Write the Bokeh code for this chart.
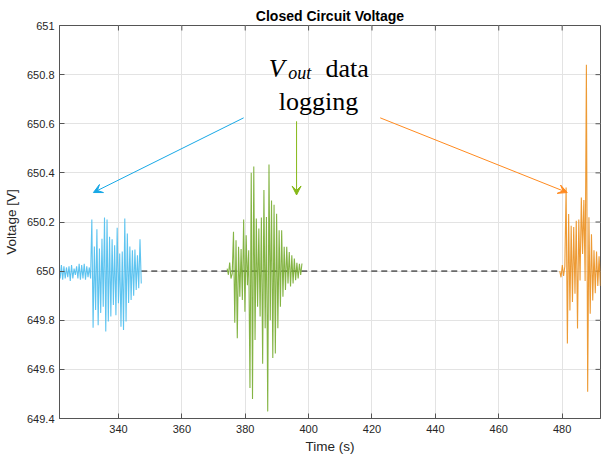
import math
from bokeh.plotting import figure
from bokeh.models import (Range1d, FixedTicker, NumeralTickFormatter,
                          Label, Arrow, VeeHead)
from bokeh.embed import file_html
from bokeh.resources import INLINE

# ---------------- data ----------------
title_text = "Closed Circuit Voltage"
x_label = "Time (s)"
y_label = "Voltage [V]"
x_ticks = [340, 360, 380, 400, 420, 440, 460, 480]
y_ticks = [649.4, 649.6, 649.8, 650.0, 650.2, 650.4, 650.6, 650.8, 651.0]
x_limits = [321.4, 492.1]
y_limits = [649.4, 651.0]

sample_dt = 0.4  # logging interval (s)

cyan_t0 = 321.2
cyan_v = [650.02, 649.97, 650.025, 649.965, 650.02, 649.97, 650.015, 649.975, 650.02, 649.96,
          650.025, 649.97, 650.01, 649.985, 650.02, 649.97, 650.03, 649.965, 650.025, 649.97,
          650.03, 649.965, 650.02, 649.975, 650.015, 649.97,
          650.21, 649.77, 650.10, 649.842, 650.17, 649.78, 650.092, 649.83, 650.132, 649.855,
          650.218, 649.754, 650.21, 649.795, 650.14, 649.815, 650.13, 649.862, 650.105, 649.82,
          650.177, 649.869, 650.072, 649.774, 650.08, 649.76, 650.214, 649.795, 650.153, 649.87,
          650.10, 649.882, 650.085, 649.90, 650.088, 649.923, 650.065, 649.93, 650.13, 649.95]

green_t0 = 374.3
green_v = [650.01, 649.985, 650.035, 649.97, 649.99,
           650.16, 649.79, 650.126, 649.727, 650.099, 649.896, 650.09, 649.882, 650.21, 649.835,
           650.146, 649.943, 650.085, 649.524, 650.40, 649.479, 650.426, 649.72, 650.214, 649.855,
           650.173, 649.815, 650.218, 649.623, 650.33, 649.767, 650.22, 649.429, 650.434, 649.80,
           650.288, 649.646, 650.27, 649.665, 650.234, 649.767, 650.166, 649.855, 650.166, 649.896,
           650.099, 649.923, 650.099, 649.95, 650.078, 649.937, 650.065, 649.95, 650.051, 649.963,
           650.034, 649.97, 650.03, 649.984, 650.031]

orange_t0 = 479.25
orange_v = [650.0, 649.975, 650.025, 649.98, 650.02,
            650.34, 649.705, 650.233, 649.84, 650.185, 649.874, 650.18, 649.908, 650.205, 649.766,
            650.21, 649.962, 650.30, 650.07, 650.29, 649.96, 650.84,
            649.509, 650.219, 649.827, 650.15, 649.88, 650.085, 649.91, 650.08, 649.94, 650.06,
            649.94, 650.05]

ref_t = [347.2, 479.2]
ref_v = [650.0, 650.0]

arrow_tail_t = [379.5, 396.2, 422.6]
arrow_tail_v = [650.624, 650.61, 650.624]
arrow_head_t = [332.1, 396.2, 481.6]
arrow_head_v = [650.32, 650.31, 650.32]

# ---------------- styles ----------------
SANS = "Liberation Sans"
SERIF = "Liberation Serif"
AX = "#555555"
TXT = "#262626"
trace_colors = ["#4DBEEE", "#77AC30", "#EB8F1E"]
arrow_colors = ["#17A8E6", "#86B817", "#FF8A1F"]


def times(t0, n):
    return [round(t0 + i * sample_dt, 3) for i in range(n)]


p = figure(width=601, height=461,
           x_range=Range1d(*x_limits), y_range=Range1d(*y_limits),
           output_backend="svg", toolbar_location=None,
           min_border_left=59, min_border_right=1, min_border_top=25, min_border_bottom=43,
           background_fill_color="white", border_fill_color="white")

p.title.text = title_text
p.title.text_font = SANS
p.title.text_font_size = "14px"
p.title.text_font_style = "bold"
p.title.text_color = "black"
p.title.align = "center"
p.title.standoff = 3

p.outline_line_color = AX
p.outline_line_width = 1

for ax, ticks in ((p.xaxis[0], x_ticks), (p.yaxis[0], y_ticks)):
    ax.ticker = FixedTicker(ticks=ticks)
    ax.major_label_text_font = SANS
    ax.major_label_text_font_size = "11px"
    ax.major_label_text_color = TXT
    ax.axis_label_text_font = SANS
    ax.axis_label_text_font_size = "13.5px"
    ax.axis_label_text_font_style = "normal"
    ax.axis_label_text_color = TXT
    ax.major_tick_in = 5
    ax.major_tick_out = 0
    ax.minor_tick_line_color = None
    ax.axis_line_color = AX
    ax.major_tick_line_color = AX

p.xaxis[0].axis_label = x_label
p.xaxis[0].major_label_standoff = 6
p.xaxis[0].axis_label_standoff = 3
p.yaxis[0].axis_label = y_label
p.yaxis[0].major_label_standoff = 5
p.yaxis[0].axis_label_standoff = 5
p.yaxis[0].formatter = NumeralTickFormatter(format="0.[0]")

p.xgrid.ticker = FixedTicker(ticks=x_ticks)
p.ygrid.ticker = FixedTicker(ticks=y_ticks)
p.xgrid.grid_line_color = "#E3E3E3"
p.ygrid.grid_line_color = "#E3E3E3"

# inward ticks on the top and right edges of the box (half of each dash is clipped by the frame)
p.scatter(x=x_ticks, y=[y_limits[1]] * len(x_ticks), marker="dash", size=10,
          angle=math.pi / 2, line_color=AX, line_width=1)
p.scatter(x=[x_limits[1]] * len(y_ticks), y=y_ticks, marker="dash", size=10,
          line_color=AX, line_width=1)

# reference level
p.line(ref_t, ref_v, line_color="#6A6A6A", line_width=1.8, line_dash="6 4")

# logged traces
for vals, t0, col in ((cyan_v, cyan_t0, trace_colors[0]),
                      (green_v, green_t0, trace_colors[1]),
                      (orange_v, orange_t0, trace_colors[2])):
    p.line(times(t0, len(vals)), vals, line_color=col, line_width=1.1, line_alpha=0.9)

# arrows
for i in range(3):
    c = arrow_colors[i]
    p.add_layout(Arrow(end=VeeHead(size=9, fill_color=c, line_color=c, line_width=1),
                       x_start=arrow_tail_t[i], y_start=arrow_tail_v[i],
                       x_end=arrow_head_t[i], y_end=arrow_head_v[i],
                       line_color=c, line_width=1))

# annotation text
p.add_layout(Label(x=387.4, y=650.823, text="V", text_font=SERIF, text_font_style="italic",
                   text_font_size="26px", text_color="black", text_baseline="alphabetic"))
p.add_layout(Label(x=393.6, y=650.805, text="out", text_font=SERIF, text_font_style="italic",
                   text_font_size="18px", text_color="black", text_baseline="alphabetic"))
p.add_layout(Label(x=405.3, y=650.823, text="data", text_font=SERIF,
                   text_font_size="26px", text_color="black", text_baseline="alphabetic"))
p.add_layout(Label(x=403.1, y=650.692, text="logging", text_font=SERIF,
                   text_font_size="26px", text_color="black", text_baseline="alphabetic",
                   text_align="center"))

open("out.html", "w").write(file_html(p, INLINE))
